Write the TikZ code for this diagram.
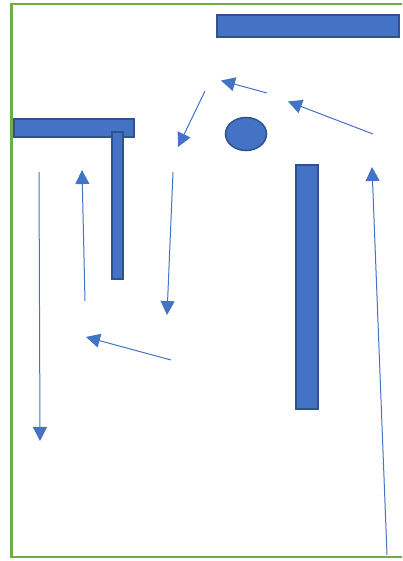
\documentclass[tikz,border=0pt]{standalone}
\usetikzlibrary{arrows.meta,shapes.geometric}
\definecolor{wallfill}{HTML}{4472C4}
\definecolor{walledge}{HTML}{2F528F}
\definecolor{framegreen}{HTML}{70AD47}
\begin{document}
\begin{tikzpicture}[x=1pt,y=-1pt,
  wall/.style={fill=wallfill,draw=walledge,line width=1.5pt},
  path/.style={draw=wallfill,line width=1pt,-{Triangle[length=14pt,width=14pt]}}]
\useasboundingbox (0,0) rectangle (402,561);
\begin{scope}
\clip (0,0) rectangle (402,561);
\draw[framegreen,line width=2.5pt] (410,4) -- (11.5,4) -- (11.5,557) -- (410,557);
\end{scope}
% walls
\draw[wall] (217,15) rectangle (399,37);
\draw[wall] (14,119) rectangle (134,137);
\draw[wall] (112,132) rectangle (123,279);
\draw[wall] (296,165) rectangle (318,409);
\node[wall,ellipse,minimum width=41pt,minimum height=33pt,inner sep=0pt] (obst) at (246,134) {};
% path coordinates
\coordinate (a1) at (39,172);  \coordinate (b1) at (40,441);
\coordinate (a2) at (85,301);  \coordinate (b2) at (82,170);
\coordinate (a3) at (173,172); \coordinate (b3) at (167,315);
\coordinate (a4) at (205,91);  \coordinate (b4) at (178,147);
\coordinate (a5) at (267,93);  \coordinate (b5) at (221,80.5);
\coordinate (a6) at (373,134); \coordinate (b6) at (288,101.5);
\coordinate (a7) at (387,555); \coordinate (b7) at (372,167);
\coordinate (a8) at (171,360); \coordinate (b8) at (86,337);
\foreach \i in {1,...,8} {\draw[path] (a\i) -- (b\i);}
\end{tikzpicture}
\end{document}
